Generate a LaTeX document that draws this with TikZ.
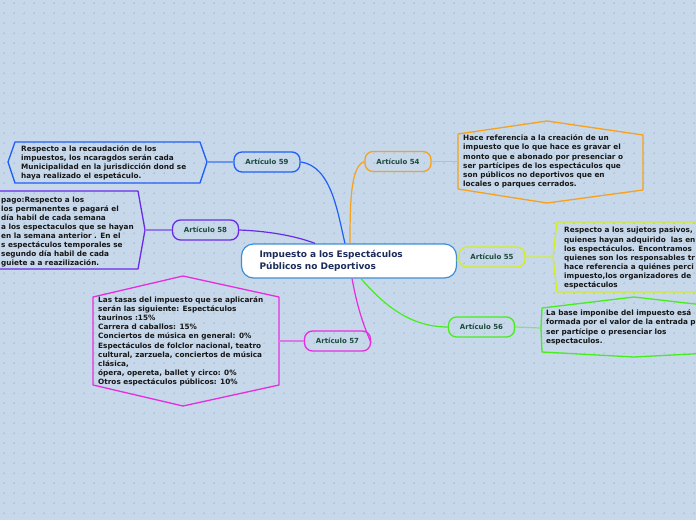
\documentclass[tikz,border=0pt]{standalone}
\usepackage{fontspec}
\setmainfont{DejaVu Sans}
\usepackage{xcolor}
\usepackage{tikz}
\usetikzlibrary{positioning}

\definecolor{bgc}{HTML}{C6D8EA}
\definecolor{gridc}{HTML}{B2C6DB}
\definecolor{labc}{HTML}{1D4A3C}
\definecolor{bodyc}{HTML}{161616}
\definecolor{titc}{HTML}{1C2C5C}
\definecolor{rootc}{HTML}{3D8FD6}
\definecolor{c59}{HTML}{1F5FF5}
\definecolor{c54}{HTML}{F7A21C}
\definecolor{c58}{HTML}{6A2BE8}
\definecolor{c55}{HTML}{D4EF1E}
\definecolor{c56}{HTML}{46EE1C}
\definecolor{c57}{HTML}{E82CE0}

\begin{document}
\begin{tikzpicture}[x=1pt,y=-1pt,
  art/.style={draw=#1,line width=1.3pt,rounded corners=8pt,minimum width=66pt,minimum height=20pt,inner sep=0pt,font=\fontsize{7}{8}\selectfont\bfseries,text=labc},
  note/.style={anchor=north west,inner sep=0pt,align=left,font=\fontsize{7.3}{9.1}\selectfont\bfseries,text=bodyc},
  shp/.style={draw=#1,line width=1.3pt,line join=round},
  link/.style={draw=#1,line width=1.2pt},
  stub/.style={draw=#1!55!bgc,line width=1.2pt}]
\useasboundingbox (0,0) rectangle (696,520);
\clip (0,0) rectangle (696,520);
\fill[bgc] (0,0) rectangle (696,520);
\foreach \i in {0,...,69}
  \foreach \j in {0,...,51}
    \draw[gridc,line width=0.5pt] (10*\i+4,10*\j+3) ++(-1.2,0) -- ++(2.4,0) ++(-1.2,-1.2) -- ++(0,2.4);

% central topic
\node[draw=rootc,fill=white,line width=1.2pt,rounded corners=12pt,minimum width=215pt,minimum height=34pt,
  inner xsep=18pt,text width=179pt,align=left,font=\fontsize{9}{11.6}\selectfont\bfseries,text=titc]
  (root) at (349,261) {Impuesto a los Espectáculos\\Públicos no Deportivos};

% articles
\node[art=c59] (a59) at (267,162) {Artículo 59};
\node[art=c54] (a54) at (398,161.5) {Artículo 54};
\node[art=c58] (a58) at (205.5,230) {Artículo 58};
\node[art=c55] (a55) at (492,257) {Artículo 55};
\node[art=c56] (a56) at (481.5,327) {Artículo 56};
\node[art=c57] (a57) at (337.5,341) {Artículo 57};

\draw[link=c59] ([xshift=-4pt]root.north) .. controls (338,215) and (332,166) .. (a59.east);
\draw[link=c54] ([xshift=1pt]root.north) .. controls (350,200) and (351,166) .. (a54.west);
\draw[link=c58] ([xshift=-34pt]root.north) .. controls (296,236) and (268,231) .. (a58.east);
\draw[link=c55] (root.east) -- (a55.west);
\draw[link=c56] ([xshift=12pt]root.south) .. controls (384,305) and (410,327) .. (a56.west);
\draw[link=c57] ([xshift=3pt]root.south) .. controls (357,305) and (362,322) .. ([yshift=-2pt]a57.east);

% notes
\coordinate (t59) at (207,162);
\coordinate (t54) at (458,161.5);
\coordinate (t58) at (145,230);
\coordinate (t55) at (553,257);
\coordinate (t56) at (541,328);
\coordinate (t57) at (279,341);

\draw[shp=c59] (8,162) -- (15,142) -- (200,142) -- (t59) -- (200,183) -- (15,183) -- cycle;
\node[note] (n59) at (21,145.5) {Respecto a la recaudación de los\\impuestos, los ncaragdos serán cada\\Municipalidad en la jurisdicción dond se\\haya realizado el espetáculo.};

\draw[shp=c58] (-5,191) -- (138,191) -- (t58) -- (138,269) -- (-5,269);
\node[note] (n58) at (1,196.5) {pago:Respecto a los\\los permanentes e pagará el\\día habil de cada semana\\a los espectaculos que se hayan\\en la semana anterior . En el\\s espectáculos temporales se\\segundo día habil de cada\\guiete a a reazilización.};

\draw[shp=c57] (93,297) -- (183,276) -- (279,297) -- (279,385) -- (183,406) -- (93,385) -- cycle;
\node[note] (n57) at (98,296.5) {Las tasas del impuesto que se aplicarán\\serán las siguiente: Espectáculos\\taurinos :15\%\\Carrera d caballos: 15\%\\Conciertos de música en general: 0\%\\Espectáculos de folclor nacional, teatro\\cultural, zarzuela, conciertos de música\\clásica,\\ópera, opereta, ballet y circo: 0\%\\Otros espectáculos públicos: 10\%};

\draw[shp=c54] (458,134) -- (547,121) -- (643,135) -- (643,190) -- (547,203) -- (458,189) -- cycle;
\node[note] (n54) at (463,134.8) {Hace referencia a la creación de un\\impuesto que lo que hace es gravar el\\monto que e abonado por presenciar o\\ser partícipes de los espectáculos que\\son públicos no deportivos que en\\locales o parques cerrados.};

\draw[shp=c55] (720,222) -- (557,222) -- (t55) -- (557,292) -- (720,292);
\node[note] (n55) at (564,227.2) {Respecto a los sujetos pasivos,\\quienes hayan adquirido\ \ las en\\los espectáculos. Encontramos\\quienes son los responsables tr\\hace referencia a quiénes perci\\impuesto,los organizadores de\\espectáculos};

\draw[shp=c56] (730,308) -- (634,297) -- (542,308) -- (t56) -- (542,352) -- (634,357) -- (730,352);
\node[note] (n56) at (546,309.8) {La base imponibe del impuesto esá\\formada por el valor de la entrada p\\ser partícipe o presenciar los\\espectaculos.};

\draw[stub=c59] (a59.west) -- (t59);
\draw[stub=c54] (a54.east) -- (t54);
\draw[stub=c58] (a58.west) -- (t58);
\draw[stub=c55] (a55.east) -- (t55);
\draw[stub=c56] (a56.east) -- (t56);
\draw[stub=c57] (a57.west) -- (t57);
\end{tikzpicture}
\end{document}
